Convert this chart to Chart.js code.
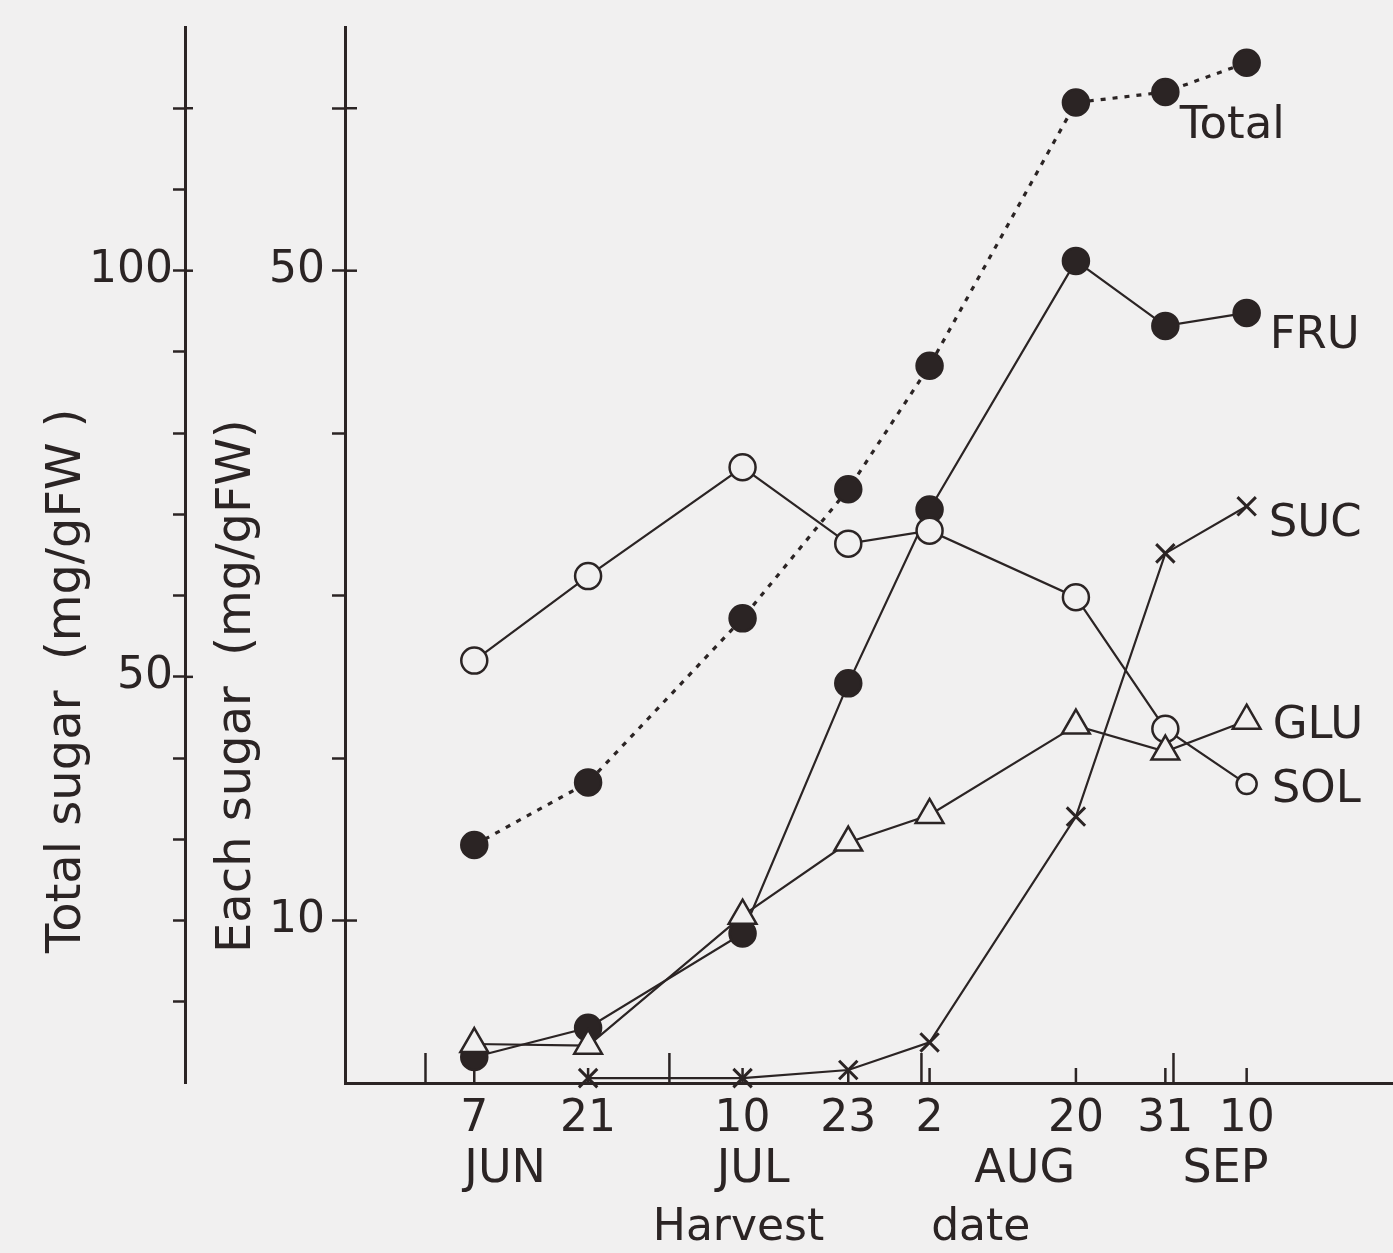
<!DOCTYPE html>
<html>
<head>
<meta charset="utf-8">
<script src="https://cdn.jsdelivr.net/npm/chart.js@4/dist/chart.umd.min.js"></script>
<style>
  html, body { margin: 0; padding: 0; background: #f1f0f0; }
  canvas { display: block; }
</style>
</head>
<body>
<canvas id="sugarChart" width="1393" height="1253"></canvas>
<script>
// Harvest dates, as day of the year (1 Jan = day 1)
const harvestDays = [158, 172, 191, 204, 214, 232, 243, 253];
const dayLabels = ['7', '21', '10', '23', '2', '20', '31', '10'];
const monthStartDays = [152, 182, 213, 244];
const monthNames = ['JUN', 'JUL', 'AUG', 'SEP'];

// Sugar contents of the fruit (mg/gFW)
const fructose = [1.6, 3.4, 9.2, 24.6, 35.3, 50.6, 46.6, 47.4];
const glucose  = [2.4, 2.3, 10.3, 14.8, 16.5, 22.0, 20.4, 22.3];
const sucrose  = [null, 0.3, 0.3, 0.8, 2.5, 16.4, 32.6, 35.5];
const sorbitol = [26.0, 31.2, 37.9, 33.2, 34.0, 29.9, 21.8, 18.4];
const totalSugar = [29.3, 37.0, 57.2, 73.1, 88.3, 120.7, 122.0, 125.6];

// Axis ticks
const totalTicks = [10, 20, 30, 40, 50, 60, 70, 80, 90, 100, 110, 120];
const totalTickLabels = [50, 100];
const eachTicks = [10, 20, 30, 40, 50, 60];
const eachTickLabels = [10, 50];

// ---- drawing setup ----
const INK = '#2b2424';
const PAPER = '#f1f0f0';
const FONT = '"DejaVu Sans", sans-serif';

// where the month names and the axis words sit along the date axis
const monthNameDays = [161.8, 192.3, 225.7, 250.4];
const axisWords = [{ text: 'Harvest', day: 190.5 }, { text: 'date', day: 220.3 }];

// label text beside the last point of each curve: offset from that point
const seriesTags = [
  { text: 'GLU',   dx: 26,  dy: 17 },
  { text: 'SOL',   dx: 25,  dy: 18 },
  { text: 'SUC',   dx: 22,  dy: 30 },
  { text: 'FRU',   dx: 23,  dy: 35 },
  { text: 'Total', dx: -67, dy: 75 }
];

function points(values) {
  return harvestDays.map((d, i) => ({ x: d, y: values[i] }));
}

// fixed axis band widths; no extra room reserved for end labels
function fixWidth(w) {
  return s => {
    s.width = w;
    s.paddingTop = 0;
    s.paddingBottom = 0;
  };
}

const figureExtras = {
  id: 'figureExtras',
  beforeDraw(chart) {
    const ctx = chart.ctx;
    ctx.save();
    ctx.fillStyle = PAPER;
    ctx.fillRect(0, 0, chart.width, chart.height);
    ctx.restore();
  },
  beforeDatasetsDraw(chart) {
    const ctx = chart.ctx;
    const xs = chart.scales.x, yT = chart.scales.yTotal, yE = chart.scales.yEach;
    ctx.save();
    ctx.strokeStyle = INK;
    ctx.lineWidth = 2.5;
    // date ticks point up into the plot; month starts are longer
    const base = xs.top;
    xs.ticks.forEach(t => {
      const px = xs.getPixelForValue(t.value);
      const len = monthStartDays.includes(t.value) ? 30 : 15;
      ctx.beginPath();
      ctx.moveTo(px, base);
      ctx.lineTo(px, base - len);
      ctx.stroke();
    });
    // labelled ticks cross the axis line
    [...totalTickLabels, 120].forEach(v => {
      const py = yT.getPixelForValue(v);
      ctx.beginPath(); ctx.moveTo(yT.right, py); ctx.lineTo(yT.right + 8, py); ctx.stroke();
    });
    [...eachTickLabels, 60].forEach(v => {
      const py = yE.getPixelForValue(v);
      ctx.beginPath(); ctx.moveTo(yE.right, py); ctx.lineTo(yE.right + 12, py); ctx.stroke();
    });
    ctx.restore();
  },
  afterDraw(chart) {
    const ctx = chart.ctx;
    const xs = chart.scales.x;
    const area = chart.chartArea;
    ctx.save();
    ctx.fillStyle = INK;

    // month names under the day numbers
    ctx.font = '46px ' + FONT;
    ctx.textAlign = 'center';
    ctx.textBaseline = 'alphabetic';
    monthNames.forEach((m, i) => {
      ctx.fillText(m, xs.getPixelForValue(monthNameDays[i]), xs.top + 99);
    });

    // axis title
    ctx.font = '44px ' + FONT;
    axisWords.forEach(w => {
      ctx.fillText(w.text, xs.getPixelForValue(w.day), xs.top + 157);
    });

    // vertical titles of both y axes
    ctx.font = '48px ' + FONT;
    ctx.textAlign = 'left';
    [['Total sugar  (mg/gFW )', 80], ['Each sugar  (mg/gFW)', 250]].forEach(([text, bx]) => {
      ctx.save();
      ctx.translate(bx, area.bottom - 130);
      ctx.rotate(-Math.PI / 2);
      ctx.fillText(text, 0, 0);
      ctx.restore();
    });

    // series names beside the curves
    ctx.font = '45px ' + FONT;
    ctx.textAlign = 'left';
    seriesTags.forEach((tag, i) => {
      const meta = chart.getDatasetMeta(i);
      const last = meta.data[meta.data.length - 1];
      ctx.fillText(tag.text, last.x + tag.dx, last.y + tag.dy);
    });
    ctx.restore();
  }
};

const lineBase = {
  borderColor: INK,
  borderWidth: 2.2,
  tension: 0,
  fill: false,
  clip: false,
  pointBorderColor: INK,
  pointBorderWidth: 2.5
};

new Chart(document.getElementById('sugarChart'), {
  type: 'line',
  data: {
    datasets: [
      Object.assign({}, lineBase, {
        label: 'GLU', data: points(glucose), yAxisID: 'yEach',
        pointStyle: 'triangle', pointRadius: 16, pointBackgroundColor: PAPER
      }),
      Object.assign({}, lineBase, {
        label: 'SOL', data: points(sorbitol), yAxisID: 'yEach',
        pointStyle: 'circle', pointRadius: [13, 13, 13, 13, 13, 13, 13, 10], pointBackgroundColor: PAPER
      }),
      Object.assign({}, lineBase, {
        label: 'SUC', data: points(sucrose), yAxisID: 'yEach',
        pointStyle: 'crossRot', pointRadius: 13, pointBorderWidth: 3, pointBackgroundColor: INK
      }),
      Object.assign({}, lineBase, {
        label: 'FRU', data: points(fructose), yAxisID: 'yEach',
        pointStyle: 'circle', pointRadius: 13, pointBackgroundColor: INK
      }),
      Object.assign({}, lineBase, {
        label: 'Total', data: points(totalSugar), yAxisID: 'yTotal',
        borderWidth: 3.2, borderDash: [5, 7],
        pointStyle: 'circle', pointRadius: 13, pointBackgroundColor: INK
      })
    ]
  },
  options: {
    responsive: false,
    animation: false,
    devicePixelRatio: 1,
    layout: { autoPadding: false, padding: { top: 27, left: 0, right: 0, bottom: 0 } },
    plugins: { legend: { display: false }, tooltip: { enabled: false } },
    scales: {
      x: {
        type: 'linear',
        position: 'bottom',
        min: 142.1,
        max: 271,
        afterBuildTicks: s => {
          s.ticks = [...monthStartDays, ...harvestDays].sort((a, b) => a - b).map(v => ({ value: v }));
        },
        afterFit: s => { s.height = 170; s.paddingLeft = 0; s.paddingRight = 0; },
        grid: { display: false, drawTicks: false },
        border: { display: true, color: INK, width: 3 },
        ticks: {
          autoSkip: false,
          maxRotation: 0,
          padding: 10,
          color: INK,
          font: { family: FONT, size: 44 },
          callback: v => {
            const i = harvestDays.indexOf(v);
            return i >= 0 ? dayLabels[i] : '';
          }
        }
      },
      yTotal: {
        type: 'linear',
        position: 'left',
        weight: 2,
        min: 0,
        max: 130,
        afterBuildTicks: s => { s.ticks = totalTicks.map(v => ({ value: v })); },
        afterFit: fixWidth(185),
        grid: { drawOnChartArea: false, drawTicks: true, tickLength: 12, tickWidth: 2.5, tickColor: INK },
        border: { display: true, color: INK, width: 3 },
        ticks: {
          padding: 0,
          color: INK,
          font: { family: FONT, size: 44 },
          callback: v => (totalTickLabels.includes(v) ? String(v) : '')
        }
      },
      yEach: {
        type: 'linear',
        position: 'left',
        weight: 1,
        min: 0,
        max: 65,
        afterBuildTicks: s => { s.ticks = eachTicks.map(v => ({ value: v })); },
        afterFit: fixWidth(160),
        grid: { drawOnChartArea: false, drawTicks: true, tickLength: 13, tickWidth: 2.5, tickColor: INK },
        border: { display: true, color: INK, width: 3 },
        ticks: {
          padding: 7,
          color: INK,
          font: { family: FONT, size: 44 },
          callback: v => (eachTickLabels.includes(v) ? String(v) : '')
        }
      }
    }
  },
  plugins: [figureExtras]
});
</script>
</body>
</html>
